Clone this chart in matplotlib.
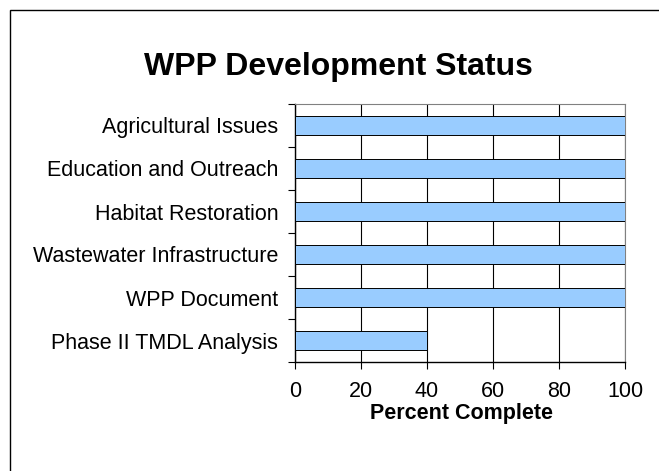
import matplotlib
matplotlib.use("Agg")
import matplotlib.pyplot as plt
from matplotlib.patches import Rectangle

plt.rcParams['font.family'] = ['Liberation Sans', 'DejaVu Sans']

categories = ['Agricultural Issues', 'Education and Outreach', 'Habitat Restoration',
              'Wastewater Infrastructure', 'WPP Document', 'Phase II TMDL Analysis']
percent = [100, 100, 100, 100, 100, 40]
x_ticks = [0, 20, 40, 60, 80, 100]

fig = plt.figure(figsize=(6.59, 4.71), dpi=100)
fig.patches.append(Rectangle((10 / 659, -0.1), 1.2, 1 - 10 / 471 + 0.1,
                             transform=fig.transFigure, fill=False,
                             edgecolor='black', linewidth=1))

ax = fig.add_axes([295 / 659, 1 - 362 / 471, 330 / 659, 258 / 471])

pos = list(range(len(categories)))[::-1]
ax.barh(pos, percent, height=0.44, color='#99CCFF', edgecolor='black',
        linewidth=0.7, zorder=3)

ax.set_xlim(0, 100)
ax.set_ylim(-0.5, len(categories) - 0.5)
ax.set_xticks(x_ticks)
ax.tick_params(axis='x', length=5, width=0.8, labelsize=15.5, pad=9)
ax.set_yticks(pos)
ax.set_yticklabels(categories)
ax.tick_params(axis='y', which='major', length=0, labelsize=15.5, pad=12)
ax.set_yticks([p + 0.5 for p in range(-1, len(categories))], minor=True)
ax.tick_params(axis='y', which='minor', length=5, width=0.8)
ax.xaxis.grid(True, color='black', linewidth=0.8, zorder=0)

for s in ['top', 'right']:
    ax.spines[s].set_color('#808080')
for s in ['left', 'bottom']:
    ax.spines[s].set_color('black')
    ax.spines[s].set_linewidth(1)

fig.text(338 / 659, 1 - 67 / 471, 'WPP Development Status', ha='center',
         va='center', fontsize=23, fontweight='bold')
fig.text(461 / 659, 1 - 413 / 471, 'Percent Complete', ha='center',
         va='center', fontsize=15.5, fontweight='bold')

fig.savefig('out.png', dpi=100)
